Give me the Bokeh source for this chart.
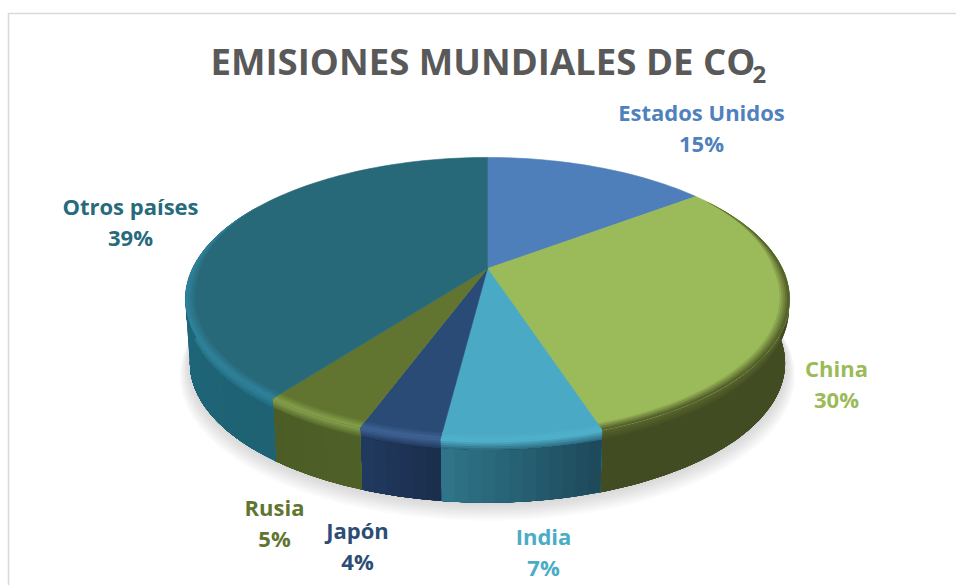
import math
from bokeh.plotting import figure
from bokeh.models import Range1d
from bokeh.core.properties import value
from bokeh.embed import file_html
from bokeh.resources import INLINE

# --- data ---
paises = ["Estados Unidos", "China", "India", "Japón", "Rusia", "Otros países"]
etiquetas = ["15%", "30%", "7%", "4%", "5%", "39%"]
# shares
partes = [14.7, 30.3, 7.0, 3.6, 4.7, 39.7]

# --- styles ---
color_cara = ["#4f7fba", "#9bba59", "#4aa9c4", "#2a4b75", "#617530", "#276879"]
color_texto = ["#4f81bd", "#9bbb59", "#4bacc6", "#2c4d75", "#5f7530", "#276a7c"]
color_brillo = ["#4f7fba", "#56622c", "#50b0cb", "#3d6192", "#829d4a", "#2f8199"]
pared_der = ["#3a5f8c", "#424c22", "#1e4a5c", "#1b2e4c", "#4f6027", "#1e6273"]
pared_izq = ["#3a5f8c", "#424c22", "#2f7488", "#20395f", "#4b5c26", "#1e687c"]

# --- layout ---
CX, CY, A, B, P = 487.0, 268.0, 295.0, 135.0, 0.2157
ALTO = 64.6
pos_etiqueta = [(701, 111), (836, 367), (543, 535), (357, 529), (274, 506), (130, 205)]
SEP = 31


def rim(theta_deg, r=1.0, d=0.0):
    t = math.radians(theta_deg)
    u, v = r * math.sin(t), r * math.cos(t)
    w = 1 + P * v
    s = 1 - 0.015 * d / ALTO
    return CX + s * A * u / w, CY + d - s * B * v / w


def hex2(c):
    return [int(c[i:i + 2], 16) for i in (1, 3, 5)]


def mezcla(a, b, f):
    ca, cb = hex2(a), hex2(b)
    return "#%02x%02x%02x" % tuple(round(x + (y - x) * f) for x, y in zip(ca, cb))


def arco(a0, a1, paso=1.5):
    n = max(2, int(abs(a1 - a0) / paso) + 1)
    return [a0 + (a1 - a0) * i / (n - 1) for i in range(n)]


def tira(a0, a1, d0, d1):
    ang = arco(a0, a1)
    pts = [rim(t, 1.0, d0) for t in ang] + [rim(t, 1.0, d1) for t in reversed(ang)]
    return [q[0] for q in pts], [q[1] for q in pts]


p = figure(width=956, height=585, output_backend="svg", toolbar_location=None,
           x_range=Range1d(0, 956), y_range=Range1d(585, 0), min_border=0,
           outline_line_color=None, background_fill_color="white", border_fill_color="white")
p.xaxis.visible = False
p.yaxis.visible = False
p.grid.visible = False

# chart frame
p.line([956, 8, 8], [13, 13, 585], line_color="#d9d9d9", line_width=1.6)

# angular limits of the slices
limites = [0.0]
for v in partes:
    limites.append(limites[-1] + v * 3.6)

# soft shadow under the disc
for i in range(10, 0, -1):
    xs, ys = [], []
    for th in arco(0, 360, 3):
        x, y = rim(th, 1.0 + 0.0035 * i, ALTO + i * 1.1)
        xs.append(x)
        ys.append(y)
    p.patch(xs, ys, fill_color="#808080", fill_alpha=0.035, line_color=None)

# side wall: painted so that each strip overlaps the next one and no seams show
wx, wy, wc = [], [], []
PROF = [0, 2, 4, 6, 8, 10]
for k in range(len(partes)):
    a0, a1 = max(limites[k], 90.0), min(limites[k + 1], 275.0)
    if a1 <= a0:
        continue
    fin = min(a1 + 0.4, 275.0)
    base_media = mezcla(pared_der[k], pared_izq[k], 0.5)
    ang = arco(a0, a1, 2.0)
    if pared_der[k] == pared_izq[k]:
        ang = [a0, a1]
    for j, d in enumerate(PROF):
        xs, ys = tira(a0, fin, d, ALTO)
        wx.append(xs)
        wy.append(ys)
        wc.append(mezcla(color_brillo[k], base_media, j / (len(PROF) - 1)))
    for i in range(len(ang) - 1):
        f = i / max(1, len(ang) - 2)
        xs, ys = tira(ang[i], fin, PROF[-1], ALTO)
        wx.append(xs)
        wy.append(ys)
        wc.append(mezcla(pared_der[k], pared_izq[k], f))
p.patches(wx, wy, fill_color=wc, line_color=None)

# top faces
fx, fy = [], []
for k in range(len(partes)):
    xs, ys = [CX], [CY]
    for th in arco(limites[k], limites[k + 1]):
        x, y = rim(th)
        xs.append(x)
        ys.append(y)
    fx.append(xs)
    fy.append(ys)
p.patches(fx, fy, fill_color=color_cara, line_color=color_cara, line_width=0.6)

# bevel: rings that soften the edge of the face, fading in towards the front
bx, by, bc = [], [], []
ANILLOS = [0.032, 0.026, 0.020, 0.014, 0.008]
for k in range(len(partes)):
    a0, a1 = max(limites[k], 55.0), min(limites[k + 1], 300.0)
    if a1 <= a0:
        continue
    for n, w_r in enumerate(ANILLOS):
        ang = arco(a0, a1)
        ext = [rim(t) for t in ang]
        inte = [rim(t, 1 - w_r * min(1.0, max(0.0, min((t - 55) / 35, (300 - t) / 35)))) for t in reversed(ang)]
        pts = ext + inte
        bx.append([q[0] for q in pts])
        by.append([q[1] for q in pts])
        bc.append(mezcla(color_cara[k], color_brillo[k], (n + 1) / len(ANILLOS)))
p.patches(bx, by, fill_color=bc, line_color=None)

# title
fuente = value("Open Sans")
p.text([210], [60], text=["EMISIONES MUNDIALES DE CO"], text_font=fuente, text_font_style="bold",
       text_font_size="36.6px", text_color="#595959", text_align="left", text_baseline="middle")
p.text([752], [74], text=["2"], text_font=fuente, text_font_style="bold",
       text_font_size="24px", text_color="#595959", text_align="left", text_baseline="middle")

# labels
for k in range(len(paises)):
    x, y = pos_etiqueta[k]
    p.text([x], [y], text=[paises[k]], text_font=fuente, text_font_style="bold",
           text_font_size="22px", text_color=color_texto[k], text_align="center", text_baseline="middle")
    p.text([x], [y + SEP], text=[etiquetas[k]], text_font=fuente, text_font_style="bold",
           text_font_size="22px", text_color=color_texto[k], text_align="center", text_baseline="middle")

open("out.html", "w").write(file_html(p, INLINE))
